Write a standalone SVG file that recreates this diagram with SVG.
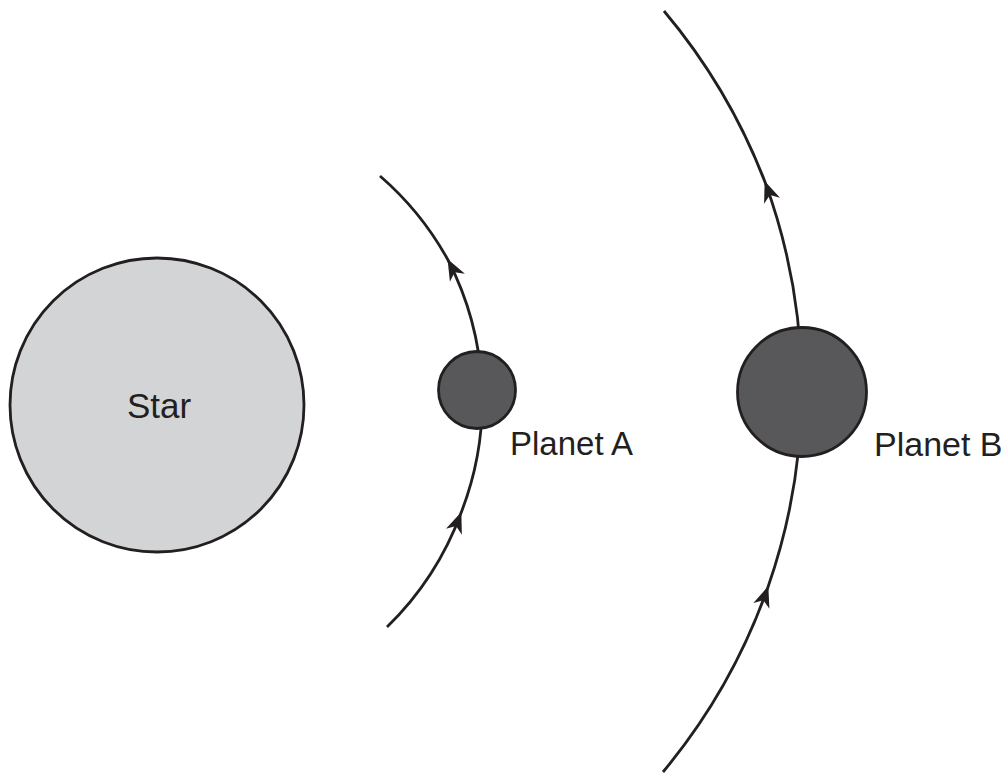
<svg xmlns="http://www.w3.org/2000/svg" width="1008" height="774" viewBox="0 0 1008 774">
  <style>
    .orbit { fill: none; stroke: #231f20; stroke-width: 2.8; marker-mid: url(#arrow); }
    .body { stroke: #231f20; stroke-width: 2.8; }
    .star { fill: #d3d4d6; }
    .planet { fill: #58585a; }
    .label { font-family: "Liberation Sans", Arial, sans-serif; fill: #231f20; }
  </style>
  <defs>
    <marker id="arrow" markerUnits="userSpaceOnUse" markerWidth="26" markerHeight="22" viewBox="-23 -11 26 22" refX="0" refY="0" orient="auto">
      <path d="M1,0 L-20,-8.5 L-14,0 L-20,8.5 Z" fill="#231f20"/>
    </marker>
  </defs>
  <rect width="1008" height="774" fill="#ffffff"/>
  <g id="connectors">
    <path id="orbit-a" class="orbit" d="M387,627 A307,307 0 0 0 461,513 A307,307 0 0 0 448,260 A307,307 0 0 0 380,176"/>
    <path id="orbit-b" class="orbit" d="M663,772 A601,601 0 0 0 768,587 A601,601 0 0 0 765,182 A601,601 0 0 0 664,11"/>
  </g>
  <g id="star">
    <circle class="body star" cx="157" cy="405" r="147"/>
    <text class="label" x="159" y="418" font-size="35" text-anchor="middle">Star</text>
  </g>
  <g id="planet-a">
    <circle class="body planet" cx="477" cy="390" r="38.5"/>
    <text class="label" x="510" y="455" font-size="33">Planet A</text>
  </g>
  <g id="planet-b">
    <circle class="body planet" cx="802" cy="392" r="64.5"/>
    <text class="label" x="874" y="456" font-size="34">Planet B</text>
  </g>
</svg>
